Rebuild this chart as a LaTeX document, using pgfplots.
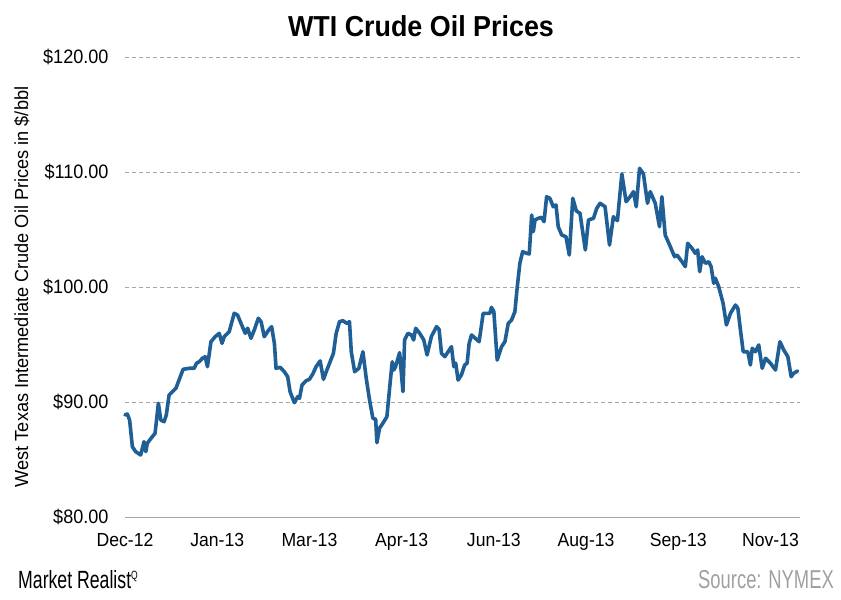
\documentclass[border=0pt]{standalone}
\usepackage{pgfplots}
\pgfplotsset{compat=1.18}
\usepackage{fontspec}
\setmainfont{Liberation Sans}
\newfontfamily\hfont[FakeStretch=0.93]{Liberation Sans}
\newfontfamily\vfont[FakeStretch=0.96]{Liberation Sans}
\newfontfamily\nfont[FakeStretch=0.71]{Liberation Sans}
\definecolor{oil}{HTML}{1F5F96}
\definecolor{gridgray}{HTML}{A6A6A6}
\definecolor{srcgray}{HTML}{A0A0A0}
\begin{document}
\begin{tikzpicture}[x=1bp,y=1bp]
\useasboundingbox (0,0) rectangle (841,600);
\begin{axis}[
  at={(125bp,83bp)}, anchor=south west,
  width=675bp, height=460bp, scale only axis,
  xmin=0, xmax=366, ymin=80, ymax=120,
  xtick={0,50,...,350},
  xticklabels={Dec-12,Jan-13,Mar-13,Apr-13,Jun-13,Aug-13,Sep-13,Nov-13},
  ytick={80,90,...,120},
  yticklabels={\$80.00,\$90.00,\$100.00,\$110.00,\$120.00},
  axis x line=bottom, axis y line=left,
  x axis line style={-, draw=gridgray, line width=0.8bp},
  y axis line style={draw=none},
  major tick length=0,
  ymajorgrids,
  grid style={gridgray, line width=0.6bp, dash pattern=on 4bp off 3bp},
  yticklabel style={font=\hfont\fontsize{19.5}{19.5}\selectfont, text=black, xshift=-13bp},
  xticklabel style={font=\hfont\fontsize{19}{19}\selectfont, text=black, yshift=-13bp},
  ylabel={West Texas Intermediate Crude Oil Prices in \$/bbl},
  ylabel style={font=\vfont\fontsize{19}{19}\selectfont, at={(axis description cs:-0.153,0.5)}, anchor=center},
  clip=false,
]
\addplot[oil, line width=3.6bp, line join=round, line cap=round] coordinates {
(0,88.87) (1.25,88.96) (2.5,88.43) (4,86.11) (5.8,85.68) (8.5,85.39) (10.3,86.55) (11.3,85.68)
(12.1,86.41) (14.8,86.98) (16.3,87.28) (18.1,89.89) (19.4,88.43) (21.2,88.29) (22.4,88.87)
(23.9,90.61) (25.7,90.90) (27.6,91.19) (29.3,91.91) (31.5,92.84) (34.8,92.93) (37.5,92.93)
(38.8,93.37) (40.2,93.50) (42,93.80) (43.5,93.94) (44.7,93.07) (46.6,95.24) (48.9,95.68)
(51.1,95.97) (52.6,95.10) (53.8,95.68) (56.5,96.11) (59.2,97.71) (61,97.57) (62.9,96.84)
(65.2,95.97) (66.5,96.41) (68.3,95.54) (70.1,96.26) (72.3,97.28) (73.8,96.98) (75.5,95.68)
(77.9,96.26) (79.5,96.55) (81,95.10) (81.9,92.93) (84.1,93.02) (86.4,92.63) (88.2,92.20)
(89.5,90.90) (91.8,89.94) (93.6,90.46) (94.6,90.32) (96,91.48) (98.2,91.85) (100,91.97)
(101.8,92.43) (103.6,93.07) (105.8,93.57) (107.6,91.97) (109.1,92.63) (110.9,93.37) (113,94.23)
(114.5,95.97) (116.3,96.98) (118.1,97.07) (120.3,96.84) (121.7,96.98) (122.7,94.37) (124.5,92.63)
(126.8,92.93) (129,94.37) (130.8,92.06) (132.6,90.17) (134.4,88.58) (135.9,88.50) (136.6,86.46)
(138,87.71) (139.8,88.15) (142,88.72) (143.9,91.91) (144.9,93.50) (145.7,92.78) (146.7,93.07)
(148.9,94.29) (150.7,90.90) (151.6,95.39) (153.4,95.97) (155.3,95.83) (156.5,95.39) (157.6,96.41)
(159.8,95.97) (162,95.39) (163.8,94.09) (166.1,95.68) (168.9,96.55) (170.3,96.32) (171.6,94.23)
(173.4,93.94) (175.2,94.37) (177,94.81) (178.3,93.07) (179.3,93.37) (180.6,91.91) (182.4,92.35)
(184.2,93.22) (185.5,93.37) (186.6,95.10) (187.9,95.83) (192,95.24) (194.2,97.71) (197.8,97.71)
(198.7,98.23) (200,97.85) (201.8,93.65) (204.2,94.81) (206,95.24) (207.8,96.84) (209.6,97.13)
(211.4,97.85) (212.7,100.03) (214.1,102.06) (215.6,103.07) (217.8,102.93) (219.2,102.87) (220.5,106.26)
(221.4,104.81) (222.3,105.83) (224.1,105.97) (225.9,106.06) (227.2,105.68) (228.6,107.85) (230.4,107.71)
(232.2,106.98) (233.7,107.13) (234.9,105.24) (236.8,104.52) (239.1,104.37) (240.9,102.78) (242.8,107.71)
(244.7,106.61) (246.7,106.41) (249.6,103.22) (251.3,105.83) (254,105.97) (255.8,106.84) (257.6,107.28)
(260.3,106.98) (262.7,103.65) (264.8,106.11) (267,105.77) (269.4,109.83) (271.7,107.42) (273.9,107.85)
(275.7,108.29) (277.2,106.98) (279,110.32) (281.1,109.83) (283.3,107.28) (284.8,108.29) (287.5,107.28)
(289.8,105.24) (291.1,107.85) (292.9,104.52) (295.7,103.50) (298,102.63) (299.3,102.78) (302,102.20)
(303.8,101.77) (305.1,103.80) (307.4,103.37) (309.2,102.93) (310.5,103.22) (311.6,101.33) (312.9,102.63)
(314.7,102.06) (316.5,102.20) (317.8,101.77) (319.2,100.32) (320.1,100.76) (321.9,100.03) (324.3,98.58)
(326.1,96.70) (328.3,97.71) (331,98.43) (332.3,98.15) (333.7,96.26) (335.2,94.37) (337.7,94.37)
(339.1,93.22) (340.1,94.67) (341.8,94.37) (343.6,94.96) (345.5,92.93) (347.3,93.80) (350,93.37)
(352.7,92.78) (355.1,95.24) (357.2,94.52) (359.4,93.94) (361.2,92.20) (362.6,92.50) (364.7,92.70)
};
\end{axis}
\node[font=\hfont\bfseries\fontsize{29}{29}\selectfont] at (421,574) {WTI Crude Oil Prices};
\node[anchor=west, font=\nfont\fontsize{25}{25}\selectfont, inner sep=0pt] at (18,20) {Market Realist\textsuperscript{\fontsize{12}{12}\selectfont Q}};
\node[anchor=east, text=srcgray, font=\nfont\fontsize{26}{26}\selectfont, inner sep=0pt] at (834,20) {Source: NYMEX};
\end{tikzpicture}
\end{document}
